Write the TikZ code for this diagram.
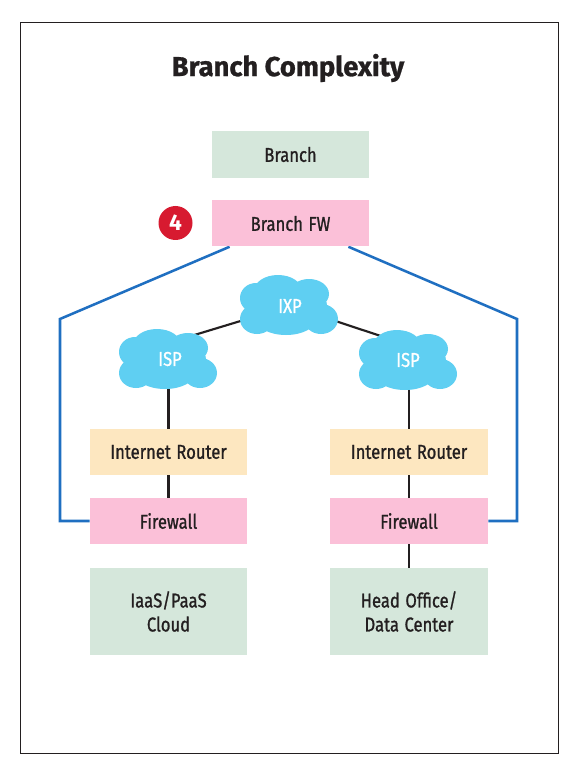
\documentclass[tikz,border=0pt]{standalone}
\usepackage{fontspec}
\usepackage{graphicx}
\setmainfont{Fira Sans}
\newfontfamily\labfont[FakeBold=1.2]{Fira Sans}
\newfontfamily\titlefont[BoldFeatures={FakeBold=1}]{Fira Sans}
\usetikzlibrary{backgrounds,calc}
\definecolor{cpink}{HTML}{FBC0D8}
\definecolor{cgreen}{HTML}{D5E7DB}
\definecolor{cyell}{HTML}{FDE7C0}
\definecolor{ccloud}{HTML}{5FCFF2}
\definecolor{cblue}{HTML}{1F6FC1}
\definecolor{cred}{HTML}{D71A30}
\definecolor{cink}{HTML}{231F20}
\newcommand{\lab}[1]{\scalebox{0.83}[1]{#1}}
\tikzset{
  x=0.75pt,y=-0.75pt,
  boxbase/.style={inner sep=0pt,text=cink,font=\labfont\fontsize{15pt}{17pt}\selectfont,align=center,text width=118pt},
  branchbox/.style={boxbase,fill=cgreen,minimum width=117.75pt,minimum height=35.25pt},
  fwbox/.style={boxbase,fill=cpink,minimum width=117.75pt,minimum height=34.5pt},
  routerbox/.style={boxbase,fill=cyell,minimum width=117.75pt,minimum height=34.5pt},
  sitebox/.style={boxbase,fill=cgreen,minimum width=117.75pt,minimum height=65.25pt},
  widebox/.style={minimum width=118.5pt,text width=118.5pt},
  cloudtext/.style={inner sep=0pt,text=white,font=\labfont\fontsize{15pt}{15pt}\selectfont},
  blueline/.style={draw=cblue,line width=1.9pt,line join=miter},
  blackline/.style={draw=cink,line width=1.6pt},
  cloudblob/.pic={
    \fill[ccloud]
      (-33,-7) ellipse [x radius=16,y radius=15]
      (-32,14) ellipse [x radius=17,y radius=15]
      (-11,-14) ellipse [x radius=24,y radius=16]
      (20,-11) ellipse [x radius=20,y radius=15]
      (32,14) ellipse [x radius=17,y radius=15]
      (-3,14) ellipse [x radius=30,y radius=16]
      (0,0) ellipse [x radius=38,y radius=22];
  }
}
\begin{document}
\begin{tikzpicture}
\useasboundingbox (0,0) rectangle (580,773);
\draw[cink,line width=0.75pt] (20,22.5) rectangle (558,753);
\node[inner sep=0pt,text=cink,font=\titlefont\bfseries\fontsize{20.5pt}{24pt}\selectfont] (title) at (288,68) {Branch Complexity};

\node[branchbox] (branch) at (290.5,154.5) {\lab{Branch}};
\node[fwbox] (fw) at (290.5,223.5) {\lab{Branch FW}};
\node[circle,fill=cred,text=white,minimum size=25.5pt,inner sep=0pt,font=\fontsize{17pt}{18pt}\selectfont] (badge) at (175.5,223) {\textbf{4}};

\pic at (289,305) {cloudblob};
\pic at (168,359) {cloudblob};
\pic at (408,360) {cloudblob};
\node[cloudtext] (ixp) at (290,306) {\lab{IXP}};
\node[cloudtext] (ispl) at (170,359) {\lab{ISP}};
\node[cloudtext] (ispr) at (408,360) {\lab{ISP}};

\node[routerbox] (routerl) at (168.5,452) {\lab{Internet Router}};
\node[routerbox,widebox] (routerr) at (409,452) {\lab{Internet Router}};
\node[fwbox] (firel) at (168.5,521) {\lab{Firewall}};
\node[fwbox,widebox] (firer) at (409,521) {\lab{Firewall}};
\node[sitebox] (cloudsite) at (168.5,611.5) {\lab{IaaS/PaaS}\\[1pt]\lab{Cloud}};
\node[sitebox,widebox] (hq) at (409,611.5) {\lab{Head Office/}\\[1pt]\lab{Data Center}};

\coordinate (joinl) at (168,343);
\coordinate (joinr) at (408,345);
\coordinate (bendl) at (60,319);
\coordinate (bendlb) at (60,521);
\coordinate (bendr) at (517,319);
\coordinate (bendrb) at (517,521);

\begin{scope}[on background layer]
  \fill[white] (0,0) rectangle (580,773);
  \draw[blackline] (joinl) -- (ixp.center);
  \draw[blackline] (joinr) -- (ixp.center);
  \draw[blackline] (ispl.center -| routerl.north) -- (routerl.north);
  \draw[blackline] (ispr.center -| routerr.north) -- (routerr.north);
  \draw[blackline] (routerl) -- (firel);
  \draw[blackline] (routerr) -- (firer);
  \draw[blackline] (firer) -- (hq);
  \draw[blueline] ($(fw.south west)+(18,0)$) -- (bendl) -- (bendlb) -- (firel.west);
  \draw[blueline] ($(fw.south east)+(-21,0)$) -- (bendr) -- (bendrb) -- (firer.east);
\end{scope}
\end{tikzpicture}
\end{document}
